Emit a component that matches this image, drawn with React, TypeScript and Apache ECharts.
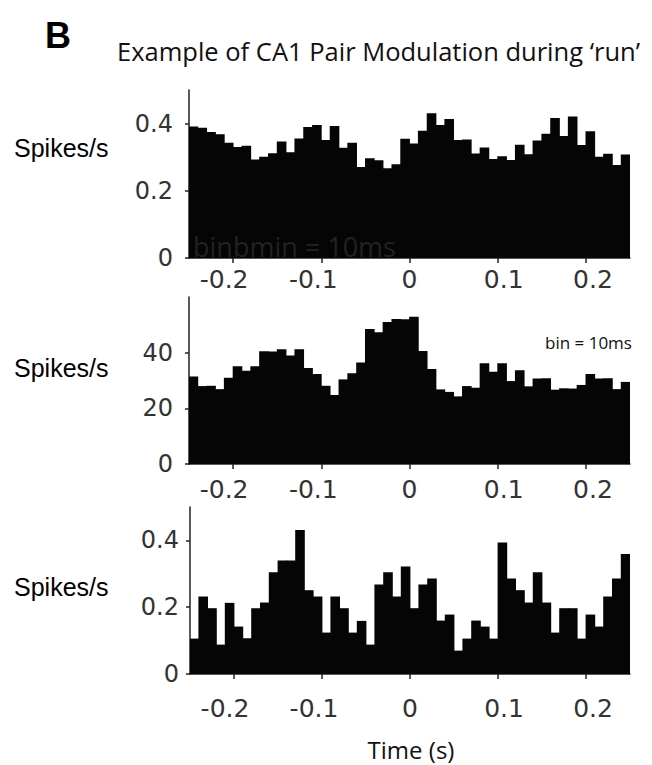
import React, { useEffect, useRef } from "react";
import * as echarts from "echarts";

// 10 ms bins from -0.25 s to 0.25 s
const binStart = -0.25;
const binWidth = 0.01;

const panel1Rates = [
  0.391, 0.388, 0.375, 0.368, 0.343, 0.33, 0.334, 0.293, 0.301, 0.312,
  0.347, 0.315, 0.356, 0.39, 0.396, 0.351, 0.393, 0.328, 0.343, 0.271,
  0.297, 0.291, 0.267, 0.279, 0.355, 0.341, 0.379, 0.431, 0.396, 0.414,
  0.351, 0.353, 0.311, 0.329, 0.295, 0.303, 0.292, 0.337, 0.309, 0.35,
  0.37, 0.417, 0.363, 0.421, 0.336, 0.377, 0.301, 0.31, 0.277, 0.308,
];
const panel2Rates = [
  31.4, 28.0, 28.1, 26.9, 31.0, 35.1, 33.5, 35.1, 40.5, 40.4,
  41.2, 39.0, 41.2, 34.5, 32.3, 28.1, 24.8, 30.4, 32.6, 36.5,
  48.5, 47.3, 51.0, 52.1, 52.0, 52.9, 40.6, 34.1, 26.8, 25.9,
  24.3, 28.0, 27.4, 36.2, 33.1, 36.2, 29.8, 33.7, 27.9, 30.7,
  30.8, 26.7, 27.2, 27.1, 28.4, 32.3, 30.7, 30.8, 26.9, 29.5,
];
const panel3Rates = [
  0.106, 0.232, 0.197, 0.088, 0.213, 0.142, 0.107, 0.197, 0.214, 0.305,
  0.34, 0.34, 0.431, 0.251, 0.232, 0.124, 0.232, 0.197, 0.124, 0.159,
  0.088, 0.268, 0.305, 0.232, 0.322, 0.197, 0.268, 0.286, 0.16, 0.178,
  0.07, 0.106, 0.16, 0.142, 0.106, 0.394, 0.286, 0.251, 0.214, 0.305,
  0.214, 0.124, 0.197, 0.197, 0.106, 0.178, 0.142, 0.232, 0.286, 0.359,
];

const xTicks = [-0.2, -0.1, 0, 0.1, 0.2];
const xTickLabels = ["-0.2", "-0.1", "0", "0.1", "0.2"];
const yTicks1 = [0, 0.2, 0.4];
const yTicks2 = [0, 20, 40];
const yTicks3 = [0, 0.2, 0.4];
const yMax = [0.5, 60, 0.5];

const titleText = "Example of CA1 Pair Modulation during \u2018run\u2019";
const yLabel = "Spikes/s";
const xLabel = "Time (s)";

const BAR = "#050505";
const AXIS = "#222";
const TICKFONT = "DejaVu Sans";

// per-label horizontal nudge (rich key), matching the reference's spread labels
const labelKeys = ["m2", "m1", "z", "p1", "p2"];
const rich: any = {
  m2: { padding: [0, 18, 0, 0] },
  m1: { padding: [0, 16, 0, 0] },
  z: {},
  p1: { padding: [0, 0, 0, 12] },
  p2: { padding: [0, 0, 0, 14] },
};
Object.keys(rich).forEach((k) => {
  rich[k] = { ...rich[k], fontFamily: TICKFONT, fontSize: 25, color: "#333" };
});

export default function App() {
  const ref = useRef<HTMLDivElement>(null);
  useEffect(() => {
    if (!ref.current) return;
    document.body.style.margin = "0";
    const chart = echarts.init(ref.current, undefined, { renderer: "svg" });

    const grids = [
      { left: 189, width: 441, top: 90, height: 168 },
      { left: 189, width: 441, top: 297, height: 167 },
      { left: 190, width: 440, top: 507, height: 167 },
    ];
    const labelMargins = [9, 13, 22];
    const yLabelMargins = [16, 16, 11];
    const yTickSets = [yTicks1, yTicks2, yTicks3];
    const series = [panel1Rates, panel2Rates, panel3Rates];

    const xAxes = grids.map((_, i) => ({
      type: "value",
      gridIndex: i,
      min: -0.25,
      max: 0.25,
      splitLine: { show: false },
      axisLine: { show: true, onZero: false, lineStyle: { color: AXIS, width: 1.5 } },
      axisTick: {
        show: true,
        inside: false,
        length: 5,
        customValues: xTicks,
        lineStyle: { color: AXIS, width: 1.5 },
      },
      axisLabel: {
        show: true,
        customValues: xTicks,
        margin: labelMargins[i],
        fontFamily: TICKFONT,
        fontSize: 25,
        color: "#333",
        formatter: (v: number) => {
          const idx = xTicks.findIndex((t) => Math.abs(t - v) < 1e-6);
          if (idx < 0) return "";
          return "{" + labelKeys[idx] + "|" + xTickLabels[idx] + "}";
        },
        rich,
      },
    }));

    const yAxes = grids.map((_, i) => ({
      type: "value",
      gridIndex: i,
      min: 0,
      max: yMax[i],
      splitLine: { show: false },
      axisLine: { show: true, onZero: false, lineStyle: { color: AXIS, width: 1.5 } },
      axisTick: {
        show: true,
        inside: false,
        length: 4,
        customValues: yTickSets[i],
        lineStyle: { color: AXIS, width: 1.5 },
      },
      axisLabel: {
        show: true,
        customValues: yTickSets[i],
        margin: yLabelMargins[i],
        fontFamily: TICKFONT,
        fontSize: 24,
        color: "#333",
        formatter: (v: number) => String(v),
      },
    }));

    const seriesOpts = series.map((vals, i) => ({
      type: "custom",
      xAxisIndex: i,
      yAxisIndex: i,
      clip: true,
      data: vals.map((v, k) => [binStart + (k + 0.5) * binWidth, v]),
      renderItem: (params: any, api: any) => {
        const x = api.value(0);
        const y = api.value(1);
        const p0 = api.coord([x - binWidth / 2, y]);
        const p1 = api.coord([x + binWidth / 2, 0]);
        return {
          type: "rect",
          shape: {
            x: p0[0] - 0.4,
            y: p0[1],
            width: p1[0] - p0[0] + 0.8,
            height: p1[1] - p0[1],
          },
          style: { fill: BAR },
        };
      },
      z: 1,
    }));

    const spikesY = [148, 368, 587];

    chart.setOption({
      animation: false,
      backgroundColor: "#fff",
      grid: grids.map((g) => ({ ...g, containLabel: false })),
      xAxis: xAxes,
      yAxis: yAxes,
      series: seriesOpts,
      graphic: [
        {
          type: "text",
          x: 45,
          y: 35,
          style: {
            text: "B",
            fontFamily: "Liberation Sans",
            fontWeight: "bold",
            fontSize: 36,
            fill: "#000",
            verticalAlign: "middle",
          },
        },
        {
          type: "text",
          x: 117,
          y: 51,
          style: {
            text: titleText,
            fontFamily: "Open Sans",
            fontSize: 25.5,
            fill: "#111",
            verticalAlign: "middle",
          },
        },
        ...spikesY.map((y) => ({
          type: "text",
          x: 14,
          y,
          style: {
            text: yLabel,
            fontFamily: "Liberation Sans",
            fontSize: 25,
            fill: "#000",
            verticalAlign: "middle",
          },
        })),
        {
          type: "text",
          x: 545,
          y: 342,
          style: {
            text: "bin = 10ms",
            fontFamily: "Open Sans",
            fontSize: 17,
            fill: "#111",
            verticalAlign: "middle",
          },
        },
        {
          type: "text",
          x: 193,
          y: 246,
          z: 10,
          style: {
            text: "binbmin = 10ms",
            fontFamily: "Open Sans",
            fontSize: 27,
            fill: "#222",
            verticalAlign: "middle",
          },
        },
        {
          type: "text",
          x: 411,
          y: 749,
          style: {
            text: xLabel,
            fontFamily: "Open Sans",
            fontSize: 24,
            fill: "#111",
            align: "center",
            verticalAlign: "middle",
          },
        },
      ],
    });

    return () => chart.dispose();
  }, []);

  return <div ref={ref} style={{ width: 652, height: 765 }} />;
}
